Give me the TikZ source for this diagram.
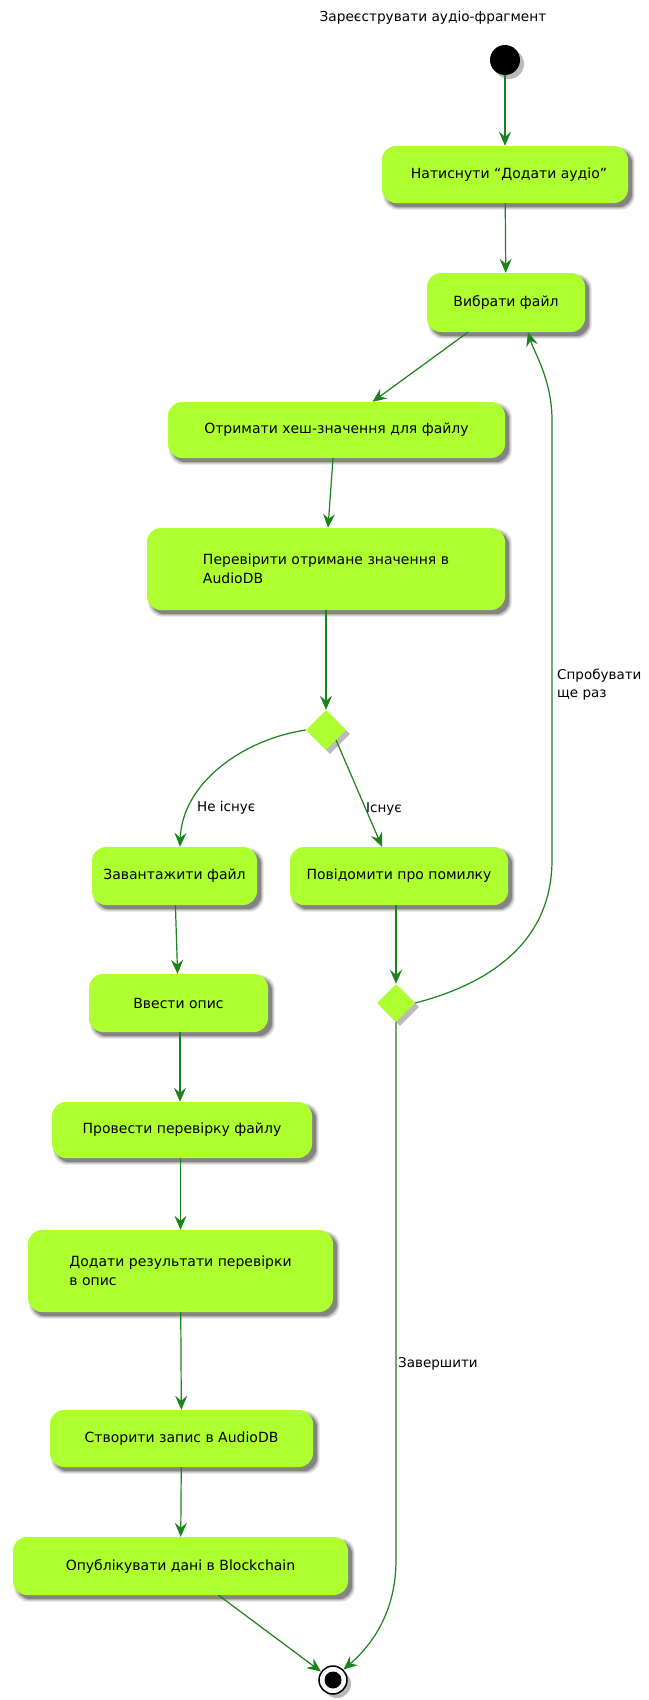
\documentclass[tikz,border=0pt]{standalone}
\usepackage{fontspec}
\setmainfont{DejaVu Sans}
\usetikzlibrary{arrows.meta,shapes.geometric,shadows,calc}
\definecolor{boxfill}{RGB}{173,255,47}
\definecolor{arr}{RGB}{28,130,28}
\pgfdeclarelayer{bg}
\pgfdeclarelayer{shadowlayer}
\pgfsetlayers{bg,shadowlayer,main}
\tikzset{
  shd/.style={drop shadow={shadow xshift=4pt, shadow yshift=-4pt, fill=black!45, opacity=.6}},
  act/.style={rectangle, rounded corners=14pt, fill=boxfill, align=center, inner sep=0pt,
    font=\fontsize{14}{19.5}\selectfont},
  dec/.style={diamond, fill=boxfill, inner sep=0pt, minimum width=40pt, minimum height=40pt, shd},
  flow/.style={draw=arr, line width=1.2pt, -{Stealth[length=14pt,width=12pt,inset=5pt,fill=arr]}},
  lbl/.style={font=\fontsize{13.5}{18}\selectfont, inner sep=0pt, align=left}
}
\newcommand\boxshadow[1]{%
  \foreach \e/\o in {2.5/0.12,1.2/0.18,0/0.28}{%
    \fill[black, opacity=\o, rounded corners=14pt]
      ([shift={(4pt-\e pt,-4pt-\e pt)}]#1.south west) rectangle ([shift={(4pt+\e pt,-4pt+\e pt)}]#1.north east);
  }%
}
\begin{document}
\begin{tikzpicture}[x=1pt,y=-1pt]
\begin{pgfonlayer}{bg}
\fill[white] (0,0) rectangle (648,1700);
\end{pgfonlayer}
\useasboundingbox (0,0) rectangle (648,1700);

\node[lbl, font=\fontsize{13.7}{16}\selectfont] (title) at (433,18) {Зареєструвати аудіо-фрагмент};
\node[circle, fill=black, minimum size=30pt, inner sep=0pt, shd] (start) at (505,60) {};

\node[act, minimum width=246pt, minimum height=57pt] (a1) at (505,174.5) {\hspace*{8pt}Натиснути “Додати аудіо”};
\node[act, minimum width=158pt, minimum height=59pt] (a2) at (506,302.5) {Вибрати файл};
\node[act, minimum width=337pt, minimum height=56pt] (a3) at (336.5,430) {Отримати хеш-значення для файлу};
\node[act, minimum width=358pt, minimum height=82pt, align=left] (a4) at (326,569) {Перевірити отримане значення в\\AudioDB};
\node[dec] (d1) at (326,730) {};
\node[act, minimum width=165pt, minimum height=58pt] (a5) at (174.5,876) {Завантажити файл};
\node[act, minimum width=218pt, minimum height=58pt] (a6) at (399,876) {Повідомити про помилку};
\node[dec, minimum width=38pt, minimum height=38pt] (d2) at (396,1003) {};
\node[act, minimum width=179pt, minimum height=58pt] (a7) at (178.5,1003) {Ввести опис};
\node[act, minimum width=260pt, minimum height=56pt] (a8) at (182,1130) {Провести перевірку файлу};
\node[act, minimum width=305pt, minimum height=82pt, align=left] (a9) at (180.5,1271) {Додати результати перевірки\\в опис};
\node[act, minimum width=263pt, minimum height=57pt] (a10) at (181.5,1438.5) {Створити запис в AudioDB};
\node[act, minimum width=335pt, minimum height=58pt] (a11) at (180.5,1566) {Опублікувати дані в Blockchain};
\node[circle, draw=black, line width=1.5pt, fill=white, minimum size=28pt, inner sep=0pt, shd,
  path picture={\fill[black] (path picture bounding box.center) circle (8.5pt);}] (end) at (333,1680) {};

\begin{pgfonlayer}{shadowlayer}
\foreach \n in {a1,a2,a3,a4,a5,a6,a7,a8,a9,a10,a11}{\boxshadow{\n}}
\end{pgfonlayer}

\draw[flow] (start) -- (a1);
\draw[flow] (a1) -- (a2);
\draw[flow] ([xshift=-38pt]a2.south) -- ([xshift=36pt]a3.north);
\draw[flow] ([xshift=-3.5pt]a3.south) -- ([xshift=2pt]a4.north);
\draw[flow] (a4.south -| d1) -- (d1.north);
\draw[flow] (d1.west) .. controls (240,740) and (182,785) .. ([xshift=5.5pt]a5.north);
\node[lbl, anchor=west] (lne) at (197,808) {Не існує};
\draw[flow] (d1.south east) -- ([xshift=-17pt]a6.north);
\node[lbl] (lex) at (384,809) {Існує};
\draw[flow] (a5) -- (a7);
\draw[flow] (a6.south -| d2) -- (d2.north);
\draw[flow] (d2.east) .. controls (485,985) and (552,945) .. (552,860) -- (552,420)
  .. controls (552,380) and (534,352) .. ([xshift=22pt]a2.south);
\node[lbl, anchor=west] (lretry) at (557,685) {Спробувати\\ще раз};
\draw[flow] ([xshift=1.5pt]a7.south) -- ([xshift=-2pt]a8.north);
\draw[flow] (a8.south -| a9) -- (a9.north);
\draw[flow] (a9) -- (a10);
\draw[flow] (a10) -- (a11);
\draw[flow] ([xshift=38pt]a11.south) -- (end.145);
\draw[flow] (d2.south) -- (396,1560) .. controls (396,1612) and (372,1645) .. (end.45);
\node[lbl, anchor=west] (lfin) at (398,1364) {Завершити};
\end{tikzpicture}
\end{document}
